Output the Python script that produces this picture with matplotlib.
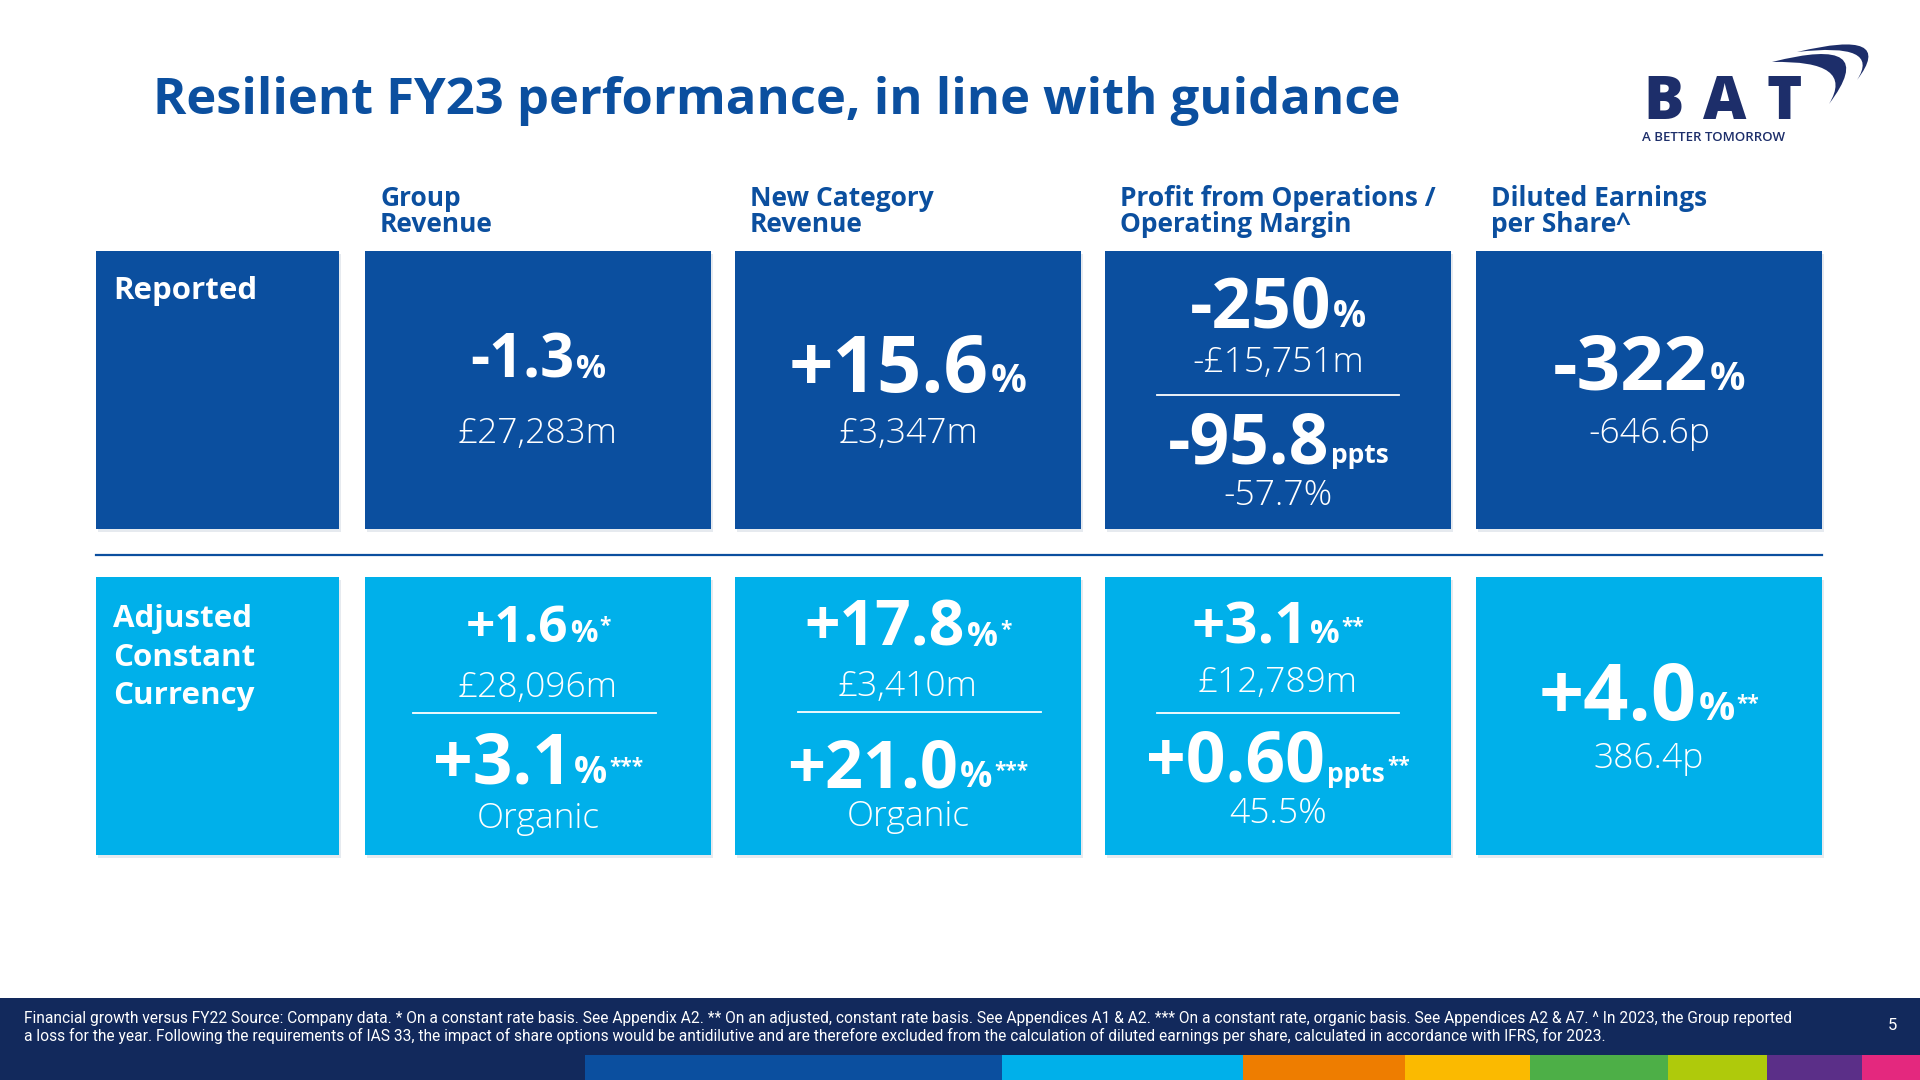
import matplotlib
matplotlib.use("Agg")
import matplotlib.pyplot as plt
from matplotlib.patches import Rectangle, PathPatch
from matplotlib.path import Path
from matplotlib import font_manager

# ---- data ----
title = "Resilient FY23 performance, in line with guidance"
col_headers = [("Group", "Revenue"), ("New Category", "Revenue"),
               ("Profit from Operations /", "Operating Margin"),
               ("Diluted Earnings", "per Share^")]
row_labels = [["Reported"], ["Adjusted", "Constant", "Currency"]]

rep_growth = ["-1.3", "+15.6", "-250", "-322"]
rep_value = ["£27,283m", "£3,347m", "-£15,751m", "-646.6p"]
rep_margin_change = "-95.8"
rep_margin = "-57.7%"

adj_growth = ["+1.6", "+17.8", "+3.1", "+4.0"]
adj_note = ["*", "*", "**", "**"]
adj_value = ["£28,096m", "£3,410m", "£12,789m", "386.4p"]
org_growth = ["+3.1", "+21.0"]
org_note = "***"
adj_margin_change = "+0.60"
adj_margin_note = "**"
adj_margin = "45.5%"

footnote = ["Financial growth versus FY22 Source: Company data. * On a constant rate basis. See Appendix A2. "
            "** On an adjusted, constant rate basis. See Appendices A1 & A2. *** On a constant rate, organic basis. "
            "See Appendices A2 & A7. ^ In 2023, the Group reported",
            "a loss for the year. Following the requirements of IAS 33, the impact of share options would be "
            "antidilutive and are therefore excluded from the calculation of diluted earnings per share, "
            "calculated in accordance with IFRS, for 2023."]
page_no = "5"

strip_colors = ["#0B4F9F", "#00B0EA", "#EE7D00", "#FBBA00", "#4DAF47", "#AFCA0B", "#5B2F88", "#E4287E"]
strip_edges = [585, 1002, 1243, 1405, 1530, 1668, 1767, 1862, 1920]

# ---- style ----
DARK = "#0B4F9F"
LIGHT = "#00B0EA"
NAVY = "#12295C"
LOGO = "#1D2E6A"
FONT = "Open Sans"
names = {f.name for f in font_manager.fontManager.ttflist}
NARROW = "Liberation Sans Narrow" if "Liberation Sans Narrow" in names else "Roboto"
plt.rcParams["font.family"] = [FONT, "DejaVu Sans"]

fig = plt.figure(figsize=(19.2, 10.8), dpi=100)
ax = fig.add_axes([0, 0, 1, 1])
ax.set_xlim(0, 1920)
ax.set_ylim(1080, 0)
ax.axis("off")
renderer = fig.canvas.get_renderer()


def card(x, y, w, h, color):
    ax.add_patch(Rectangle((x + 2, y + 3), w, h, color="#c9d1dc", alpha=0.45, lw=0, zorder=1))
    ax.add_patch(Rectangle((x, y), w, h, color=color, lw=0, zorder=2))


def rich(xc, yb, parts, gap=2):
    # parts: (text, size, weight, rise)
    texts = []
    for s, size, weight, rise in parts:
        t = ax.text(0, yb - rise, s, fontsize=size, fontweight=weight, color="white",
                    ha="left", va="baseline", zorder=5)
        texts.append(t)
    widths = [t.get_window_extent(renderer).width for t in texts]
    x = xc - (sum(widths) + gap * (len(widths) - 1)) / 2
    for t, w in zip(texts, widths):
        t.set_x(x)
        x += w + gap


def growth(xc, yb, num, size, unit="%", note=""):
    usize = 0.35 * size + 9 if unit == "%" else 0.26 * size + 6
    parts = [(num, size, "bold", 0), (unit, usize, "bold", 0)]
    if note:
        parts.append((note, 15, "bold", 10))
    rich(xc, yb, parts)


def light(xc, yb, s, size=25.5):
    ax.text(xc, yb, s, fontsize=size, fontweight="light", color="white",
            ha="center", va="baseline", zorder=5)


def divider(x0, x1, y):
    ax.plot([x0, x1], [y, y], color="white", lw=1.3, zorder=5)


# title
ax.text(153, 114, title, fontsize=36.5, fontweight="bold", color=DARK, ha="left", va="baseline")

# logo
for ch, lx in zip("BAT", [1643, 1703, 1766]):
    ax.text(lx, 119, ch, fontsize=43, fontweight="heavy", color=LOGO, ha="left", va="baseline")
ax.text(1642, 141, "A BETTER TOMORROW", fontsize=9.5, fontweight="semibold", color=LOGO,
        ha="left", va="baseline")
for A, Bo, Bi, C in [((1797, 52), (1897, 28), (1882, 42), (1857, 80)),
                     ((1772, 62), (1882, 34), (1856, 60), (1829, 104))]:
    verts = [A, Bo, C, Bi, A, A]
    codes = [Path.MOVETO, Path.CURVE3, Path.CURVE3, Path.CURVE3, Path.CURVE3, Path.CLOSEPOLY]
    ax.add_patch(PathPatch(Path(verts, codes), color=LOGO, lw=0))

# column headers
card_x = [365, 735, 1105, 1476]
card_w = 346
row_y = [251, 577]
row_h = 278
for cx, (l1, l2) in zip(card_x, col_headers):
    ax.text(cx + 15, 206, l1, fontsize=19, fontweight="bold", color=DARK, ha="left", va="baseline")
    ax.text(cx + 15, 232, l2, fontsize=19, fontweight="bold", color=DARK, ha="left", va="baseline")

# row label cards
card(96, row_y[0], 243, row_h, DARK)
card(96, row_y[1], 243, row_h, LIGHT)
for ry, lines, base in zip(row_y, row_labels, [299, 627]):
    for i, s in enumerate(lines):
        ax.text(113, base + i * 38.5, s, fontsize=22.5, fontweight="bold", color="white",
                ha="left", va="baseline", zorder=5)

# separator
ax.plot([96, 1822], [555, 555], color=DARK, lw=1.6)

# reported row
for cx in card_x:
    card(cx, row_y[0], card_w, row_h, DARK)
centers = [cx + card_w / 2 for cx in card_x]
rep_sizes = [43, 56, 50, 55]
rep_base = [378, 392, 327, 390]
val_base = [443, 443, 372, 443]
for i in range(4):
    growth(centers[i], rep_base[i], rep_growth[i], rep_sizes[i])
    light(centers[i], val_base[i], rep_value[i])
divider(1157, 1399, 395)
growth(centers[2], 463, rep_margin_change, 50, unit="ppts")
light(centers[2], 505, rep_margin)

# adjusted row
for cx in card_x:
    card(cx, row_y[1], card_w, row_h, LIGHT)
adj_sizes = [37, 45, 42, 57]
adj_base = [642, 646, 643, 720]
adj_val_base = [697, 696, 692, 768]
for i in range(4):
    growth(centers[i], adj_base[i], adj_growth[i], adj_sizes[i], note=adj_note[i])
    light(centers[i], adj_val_base[i], adj_value[i])
divider(413, 656, 713)
divider(798, 1041, 712)
divider(1157, 1399, 713)
for i, (g, size, yb, ob) in enumerate(zip(org_growth, [50, 48], [783, 787], [828, 826])):
    growth(centers[i], yb, g, size, note=org_note)
    light(centers[i], ob, "Organic")
growth(centers[2], 782, adj_margin_change, 50, unit="ppts", note=adj_margin_note)
light(centers[2], 823, adj_margin)

# footer
ax.add_patch(Rectangle((0, 998), 1920, 82, color=NAVY, lw=0))
for i, s in enumerate(footnote):
    ax.text(24, 1019 + i * 17, s, fontsize=11.2, family=NARROW, color="white", ha="left", va="center")
ax.text(1892, 1025, page_no, fontsize=12, family=NARROW, color="white", ha="center", va="center")
for c, x0, x1 in zip(strip_colors, strip_edges[:-1], strip_edges[1:]):
    ax.add_patch(Rectangle((x0, 1055), x1 - x0, 25, color=c, lw=0))

fig.savefig("out.png", dpi=100, facecolor="white")
